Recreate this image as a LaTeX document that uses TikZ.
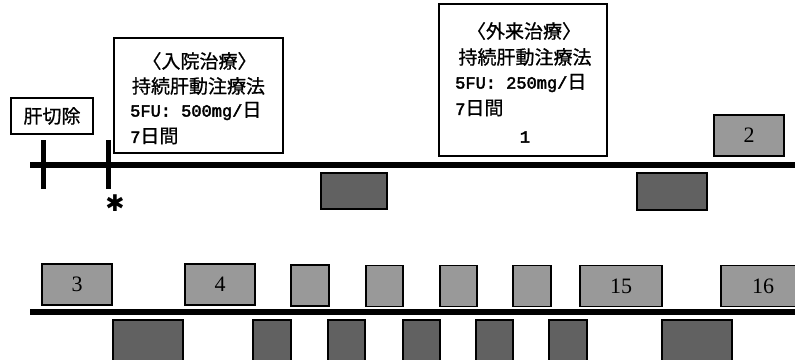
\documentclass[tikz,border=0pt]{standalone}
\usepackage{fontspec}
\setmainfont{Liberation Serif}
\newfontfamily\jpfam[FakeBold=0.8]{Noto Sans CJK JP}
\newfontfamily\latfam[FakeBold=2.5]{Liberation Mono}
\newfontfamily\symfam{DejaVu Sans}
\newcommand\jpf{\jpfam\fontsize{19}{22}\selectfont}
\newcommand\latf{\latfam\fontsize{17}{20}\selectfont}
\newcommand\numf{\fontsize{22}{24}\selectfont}
\begin{document}
\begin{tikzpicture}[x=1pt,y=-1pt,
  tbox/.style={draw, line width=1.6pt, fill=white, inner sep=0pt},
  gup/.style={draw, line width=1.8pt, fill=black!40, inner sep=0pt, font=\numf},
  gdn/.style={draw, line width=1.8pt, fill=black!62, inner sep=0pt},
  bar/.style={line width=6pt},
  tickmark/.style={line width=5pt},
  jt/.style={inner sep=0pt, font=\jpf}]
\useasboundingbox (0,0) rectangle (795,359);
\fill[white] (0,0) rectangle (795,359);

% timelines
\coordinate (ua) at (30,165);
\coordinate (ub) at (800,165);
\draw[bar] (ua) -- (ub);
\coordinate (la) at (30,312);
\coordinate (lb) at (800,312);
\draw[bar] (la) -- (lb);

% ticks
\coordinate (t1a) at (43,140);
\coordinate (t1b) at (43,189);
\draw[tickmark] (t1a) -- (t1b);
\coordinate (t2a) at (108,140);
\coordinate (t2b) at (108,189);
\draw[tickmark] (t2a) -- (t2b);
\node[inner sep=0pt, font=\symfam\fontsize{23}{23}\selectfont] (ast) at (115,203) {✱};

% text boxes
\node[tbox, minimum width=82pt, minimum height=36pt, font=\jpf] (cut) at (52,116) {肝切除};

\node[tbox, minimum width=169pt, minimum height=115pt] (inbox) at (198.5,95.5) {};
\node[jt] (in1) at (199.5,61) {〈入院治療〉};
\node[jt] (in2) at (198.5,86) {持続肝動注療法};
\node[jt, anchor=west] (in3) at (130,111) {{\latf 5FU: 500mg/}日};
\node[jt, anchor=west] (in4) at (130,136) {{\latf 7}日間};

\node[tbox, minimum width=168pt, minimum height=152pt] (outbox) at (523,80) {};
\node[jt] (out1) at (524,31) {〈外来治療〉};
\node[jt] (out2) at (525,57) {持続肝動注療法};
\node[jt, anchor=west] (out3) at (455,83) {{\latf 5FU: 250mg/}日};
\node[jt, anchor=west] (out4) at (455,108) {{\latf 7}日間};
\node[inner sep=0pt, font=\latf] (out5) at (525,137) {1};

% gray boxes, upper timeline
\node[gup, minimum width=70pt, minimum height=41pt] (b2) at (749,135.5) {2};
\node[gdn, minimum width=66pt, minimum height=36pt] (u1) at (354,191) {};
\node[gdn, minimum width=70pt, minimum height=37pt] (u2) at (672,191.5) {};

% gray boxes, lower timeline (above)
\node[gup, minimum width=70pt, minimum height=41pt] (b3) at (77,284.5) {3};
\node[gup, minimum width=70pt, minimum height=41pt] (b4) at (220,284.5) {4};
\node[gup, minimum width=38pt, minimum height=41pt] (b5) at (310,285.5) {};
\node[gup, minimum width=37pt, minimum height=41pt] (b6) at (384.5,286) {};
\node[gup, minimum width=37pt, minimum height=41pt] (b7) at (458.5,286) {};
\node[gup, minimum width=38pt, minimum height=41pt] (b8) at (532,286) {};
\node[gup, minimum width=82pt, minimum height=41pt] (b15) at (621,286) {15};
\node[gup, minimum width=84pt, minimum height=41pt] (b16) at (763,286) {16};

% gray boxes, lower timeline (below)
\node[gdn, minimum width=70pt, minimum height=45pt] (l1) at (148,342.5) {};
\node[gdn, minimum width=38pt, minimum height=45pt] (l2) at (272,342.5) {};
\node[gdn, minimum width=37pt, minimum height=45pt] (l3) at (346.5,342.5) {};
\node[gdn, minimum width=37pt, minimum height=45pt] (l4) at (421.5,342.5) {};
\node[gdn, minimum width=37pt, minimum height=45pt] (l5) at (494.5,342.5) {};
\node[gdn, minimum width=38pt, minimum height=45pt] (l6) at (568,342.5) {};
\node[gdn, minimum width=70pt, minimum height=45pt] (l7) at (697,342.5) {};
\end{tikzpicture}
\end{document}
